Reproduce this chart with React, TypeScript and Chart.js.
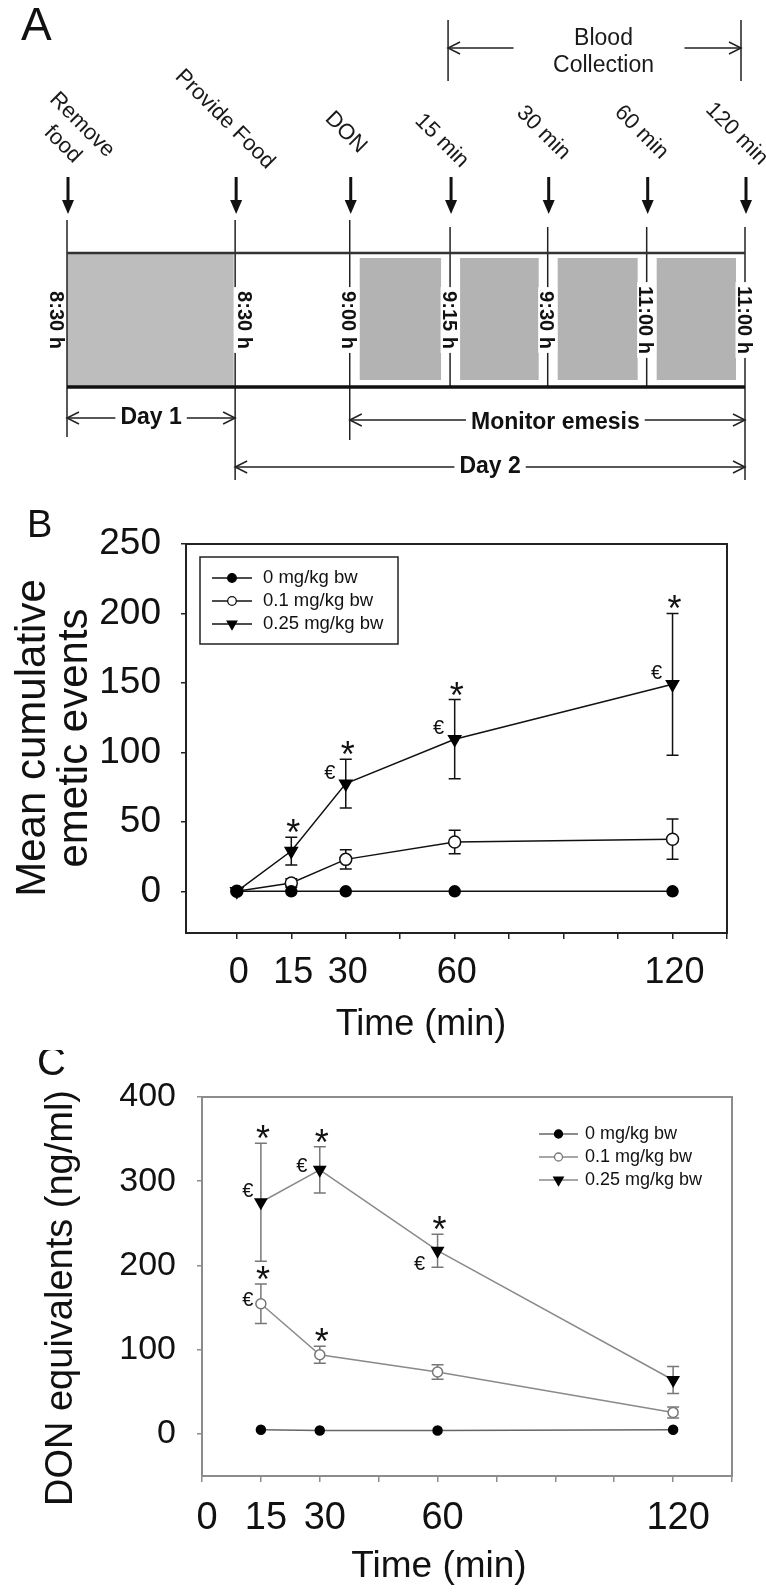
import React, { useEffect, useRef } from 'react';
import { Chart, registerables } from 'chart.js';

Chart.register(...registerables);

const FONT = "'Liberation Sans', Arial, Helvetica, sans-serif";
const W = 766;

// ================= Panel A : experimental timeline =================
const A_EVENT_LABELS = [['Remove', 'food'], ['Provide Food'], ['DON'], ['15 min'], ['30 min'], ['60 min'], ['120 min']];
const A_EVENT_POS = [0, 24.8, 41.7, 56.5, 70.9, 85.5, 100]; // schematic position along the timeline
const A_CLOCK_LABELS = ['8:30 h', '8:30 h', '9:00 h', '9:15 h', '9:30 h', '11:00 h', '11:00 h'];
const A_FOOD_REMOVED = [[0, 1]];
const A_MONITOR_BLOCKS = [[2, 3], [3, 4], [4, 5], [5, 6]];
const A_SPAN_LABELS = ['Day 1', 'Monitor emesis', 'Day 2'];
const A_SPAN_RANGES = [[0, 1], [2, 6], [1, 6]];
const A_BLOOD_LABEL = ['Blood', 'Collection'];
const A_BLOOD_RANGE = [3, 6];

// ================= Panel B : cumulative emetic events =================
const SERIES_NAMES = ['0 mg/kg bw', '0.1 mg/kg bw', '0.25 mg/kg bw'];
const B_TIME = [0, 15, 30, 60, 120];
const B_DOSE0 = [0, 0, 0, 0, 0];
const B_DOSE0_SEM = [0, 0, 0, 0, 0];
const B_DOSE01 = [0, 6, 23, 35.5, 37.5];
const B_DOSE01_SEM = [0, 3, 7, 8.5, 14.5];
const B_DOSE025 = [0, 29, 77.5, 109.5, 149];
const B_DOSE025_SEM = [0, 10, 17.5, 28.5, 51];
const B_X_TICKS = [0, 15, 30, 45, 60, 75, 90, 105, 120, 135];
const B_X_LABELS = [0, 15, 30, 60, 120];
const B_Y_TICKS = [0, 50, 100, 150, 200, 250];
const B_STAR_IDX = [1, 2, 3, 4];
const B_EURO_IDX = [2, 3, 4];

// ================= Panel C : plasma DON equivalents =================
const C_TIME = [15, 30, 60, 120];
const C_DOSE0 = [5, 4, 4, 5];
const C_DOSE0_SEM = [0, 0, 0, 0];
const C_DOSE01 = [154.5, 94, 73.5, 25.5];
const C_DOSE01_SEM = [23.5, 10, 8.5, 6.5];
const C_DOSE025 = [275, 313.5, 217.5, 64];
const C_DOSE025_SEM = [70, 27.5, 19.5, 16];
const C_X_TICKS = [0, 15, 30, 45, 60, 75, 90, 105, 120, 135];
const C_X_LABELS = [0, 15, 30, 60, 120];
const C_Y_TICKS = [0, 100, 200, 300, 400];
const C_STAR_IDX_025 = [0, 1, 2];
const C_STAR_IDX_01 = [0, 1];
const C_EURO_IDX_025 = [0, 1, 2];
const C_EURO_IDX_01 = [0];

// ================= helpers =================
function textAtCenter(ctx: CanvasRenderingContext2D, text: string, x: number, y: number, align: CanvasTextAlign = 'center') {
  ctx.textAlign = align;
  ctx.textBaseline = 'alphabetic';
  const m = ctx.measureText(text);
  const dy = (m.actualBoundingBoxAscent - m.actualBoundingBoxDescent) / 2;
  ctx.fillText(text, x, y + dy);
}

function openHead(ctx: CanvasRenderingContext2D, x: number, y: number, dir: number) {
  ctx.beginPath();
  ctx.moveTo(x - dir * 12, y - 6);
  ctx.lineTo(x, y);
  ctx.lineTo(x - dir * 12, y + 6);
  ctx.stroke();
}

function drawMarker(ctx: CanvasRenderingContext2D, style: string, x: number, y: number, r: number, fill: string, stroke: string, lw: number) {
  ctx.beginPath();
  if (style === 'triangle') {
    ctx.moveTo(x - r * 0.866, y - r * 0.5);
    ctx.lineTo(x + r * 0.866, y - r * 0.5);
    ctx.lineTo(x, y + r);
    ctx.closePath();
  } else {
    ctx.arc(x, y, r, 0, Math.PI * 2);
  }
  ctx.fillStyle = fill;
  ctx.fill();
  ctx.lineWidth = lw;
  ctx.strokeStyle = stroke;
  ctx.stroke();
}

// ================= Panel A plugin =================
const timelinePlugin = {
  id: 'timeline',
  afterDraw(chart: any) {
    const ctx = chart.ctx as CanvasRenderingContext2D;
    const sx = chart.scales.x;
    const xs = A_EVENT_POS.map((p) => sx.getPixelForValue(p));
    const yTop = 253;
    const yBot = 387;
    ctx.save();
    ctx.fillStyle = '#111';
    ctx.font = `46px ${FONT}`;
    ctx.textAlign = 'left';
    ctx.textBaseline = 'alphabetic';
    ctx.fillText('A', 21, 40);

    // shaded periods
    ctx.fillStyle = '#bdbdbd';
    A_FOOD_REMOVED.forEach(([a, b]) => ctx.fillRect(xs[a], yTop, xs[b] - xs[a] - 1.5, yBot - yTop));
    ctx.fillStyle = '#b3b3b3';
    A_MONITOR_BLOCKS.forEach(([a, b]) => ctx.fillRect(xs[a] + 10, yTop + 5, xs[b] - xs[a] - 19, yBot - yTop - 12));

    // vertical event lines
    const vTop = [220, 220, 220, 227, 227, 227, 227];
    const vBot = [437, 480, 440, yBot, yBot, yBot, 480];
    ctx.strokeStyle = '#222';
    ctx.lineWidth = 1.5;
    xs.forEach((x, i) => {
      ctx.beginPath();
      ctx.moveTo(x, vTop[i]);
      ctx.lineTo(x, vBot[i]);
      ctx.stroke();
    });

    // horizontal frame lines
    ctx.lineWidth = 2.5;
    ctx.strokeStyle = '#333';
    ctx.beginPath();
    ctx.moveTo(xs[0], yTop);
    ctx.lineTo(xs[6], yTop);
    ctx.stroke();
    ctx.lineWidth = 3.5;
    ctx.strokeStyle = '#111';
    ctx.beginPath();
    ctx.moveTo(xs[0], yBot);
    ctx.lineTo(xs[6], yBot);
    ctx.stroke();

    // clock labels
    ctx.font = `bold 20px ${FONT}`;
    A_CLOCK_LABELS.forEach((lab, i) => {
      const w = ctx.measureText(lab).width;
      const cx = i === 0 ? xs[0] - 9.5 : i === 1 ? xs[1] + 10 : xs[i];
      const cy = 320;
      if (i > 0) {
        ctx.fillStyle = '#fff';
        const rx = i === 1 ? xs[1] - 1.2 : cx - 9.5;
        const rw = i === 1 ? 21 : 19;
        ctx.fillRect(rx, cy - w / 2 - 4, rw, w + 8);
      }
      ctx.save();
      ctx.translate(cx, cy);
      ctx.rotate(Math.PI / 2);
      ctx.fillStyle = '#111';
      textAtCenter(ctx, lab, 0, 0);
      ctx.restore();
    });

    // down arrows
    ctx.fillStyle = '#111';
    ctx.strokeStyle = '#111';
    ctx.lineWidth = 3;
    xs.forEach((x0) => {
      const x = x0 + 1;
      ctx.beginPath();
      ctx.moveTo(x, 177);
      ctx.lineTo(x, 203);
      ctx.stroke();
      ctx.beginPath();
      ctx.moveTo(x - 6, 200);
      ctx.lineTo(x + 6, 200);
      ctx.lineTo(x, 214);
      ctx.closePath();
      ctx.fill();
    });

    // rotated event labels
    const labDx = [6.5, -9, -3, -7, -3, -4, -7];
    const labY = [133.5, 118, 131.5, 139.5, 131.5, 131, 132.5];
    ctx.font = `22px ${FONT}`;
    ctx.fillStyle = '#1a1a1a';
    A_EVENT_LABELS.forEach((lines, i) => {
      ctx.save();
      ctx.translate(xs[i] + labDx[i], labY[i]);
      ctx.rotate(Math.PI / 4);
      lines.forEach((ln, k) => textAtCenter(ctx, ln, 0, (k - (lines.length - 1) / 2) * 27));
      ctx.restore();
    });

    // blood collection bracket
    const bx1 = xs[A_BLOOD_RANGE[0]] - 2;
    const bx2 = xs[A_BLOOD_RANGE[1]] - 4;
    const bcx = (bx1 + bx2) / 2 + 9;
    ctx.strokeStyle = '#222';
    ctx.lineWidth = 1.5;
    ctx.beginPath();
    ctx.moveTo(bx1, 20);
    ctx.lineTo(bx1, 81);
    ctx.moveTo(bx2, 20);
    ctx.lineTo(bx2, 81);
    ctx.moveTo(bx1, 48);
    ctx.lineTo(bcx - 90, 48);
    ctx.moveTo(bcx + 81, 48);
    ctx.lineTo(bx2, 48);
    ctx.stroke();
    openHead(ctx, bx1, 48, -1);
    openHead(ctx, bx2, 48, 1);
    ctx.font = `23px ${FONT}`;
    ctx.fillStyle = '#1a1a1a';
    textAtCenter(ctx, A_BLOOD_LABEL[0], bcx, 36);
    textAtCenter(ctx, A_BLOOD_LABEL[1], bcx, 63);

    // day / monitoring spans
    const spanY = [418, 420, 467];
    const spanShift = [0, 8, 0];
    ctx.font = `bold 23px ${FONT}`;
    A_SPAN_LABELS.forEach((lab, i) => {
      const [a, b] = A_SPAN_RANGES[i];
      const x1 = xs[a];
      const x2 = xs[b];
      const cx = (x1 + x2) / 2 + spanShift[i];
      const y = spanY[i];
      const half = ctx.measureText(lab).width / 2 + 5;
      ctx.strokeStyle = '#222';
      ctx.lineWidth = 1.5;
      ctx.beginPath();
      ctx.moveTo(x1, y);
      ctx.lineTo(cx - half, y);
      ctx.moveTo(cx + half, y);
      ctx.lineTo(x2, y);
      ctx.stroke();
      openHead(ctx, x1, y, -1);
      openHead(ctx, x2, y, 1);
      ctx.fillStyle = '#111';
      textAtCenter(ctx, lab, cx, y);
    });
    ctx.restore();
  },
};

function timelineConfig(): any {
  return {
    type: 'scatter',
    data: {
      datasets: [
        {
          label: 'events',
          data: A_EVENT_POS.map((x) => ({ x, y: 0 })),
          pointRadius: 0,
        },
      ],
    },
    options: {
      responsive: false,
      animation: false,
      devicePixelRatio: 1,
      events: [],
      layout: { padding: { left: 67, right: 21, top: 0, bottom: 0 } },
      plugins: { legend: { display: false }, tooltip: { enabled: false } },
      scales: {
        x: { type: 'linear', min: 0, max: 100, display: false },
        y: { type: 'linear', min: -1, max: 1, display: false },
      },
    },
    plugins: [timelinePlugin],
  };
}

// ================= generic line-panel config =================
type Note = { text: string; t: number; v: number; dx: number; dy: number; size: number };

function lineConfig(p: any): any {
  const xLabelSet = new Set(p.xLabels);
  const decor = {
    id: 'decor' + p.letter,
    beforeDatasetsDraw(chart: any) {
      const ctx = chart.ctx as CanvasRenderingContext2D;
      const a = chart.chartArea;
      const x = chart.scales.x;
      const y = chart.scales.y;
      ctx.save();
      ctx.strokeStyle = p.axisColor;
      ctx.lineWidth = p.axisWidth;
      ctx.strokeRect(a.left, a.top, a.right - a.left, a.bottom - a.top);
      chart.data.datasets.forEach((ds: any) => {
        ctx.strokeStyle = ds.errorColor;
        ctx.lineWidth = 1.5;
        ds.data.forEach((pt: any, i: number) => {
          const e = ds.sem[i];
          if (!e) return;
          const px = x.getPixelForValue(pt.x);
          const y1 = y.getPixelForValue(pt.y + e);
          const y2 = y.getPixelForValue(pt.y - e);
          ctx.beginPath();
          ctx.moveTo(px, y1);
          ctx.lineTo(px, y2);
          ctx.moveTo(px - 6, y1);
          ctx.lineTo(px + 6, y1);
          ctx.moveTo(px - 6, y2);
          ctx.lineTo(px + 6, y2);
          ctx.stroke();
        });
      });
      ctx.restore();
    },
    afterDraw(chart: any) {
      const ctx = chart.ctx as CanvasRenderingContext2D;
      const x = chart.scales.x;
      const y = chart.scales.y;
      ctx.save();
      // significance marks
      ctx.fillStyle = '#111';
      (p.notes as Note[]).forEach((n) => {
        ctx.font = `${n.size}px ${FONT}`;
        textAtCenter(ctx, n.text, x.getPixelForValue(n.t) + n.dx, y.getPixelForValue(n.v) + n.dy);
      });
      // legend
      const L = p.legend;
      if (L.box) {
        ctx.strokeStyle = '#222';
        ctx.lineWidth = 1.5;
        ctx.strokeRect(L.box[0], L.box[1], L.box[2], L.box[3]);
      }
      chart.data.datasets.forEach((ds: any, i: number) => {
        const ry = L.rows[i];
        ctx.strokeStyle = ds.borderColor;
        ctx.lineWidth = 1.5;
        ctx.beginPath();
        ctx.moveTo(L.x1, ry);
        ctx.lineTo(L.x2, ry);
        ctx.stroke();
        const style = ds.pointStyle;
        drawMarker(ctx, style, (L.x1 + L.x2) / 2, ry, style === 'triangle' ? L.triR : L.circR, ds.pointBackgroundColor, ds.pointBorderColor, 1.3);
        ctx.fillStyle = '#111';
        ctx.font = `${L.size}px ${FONT}`;
        textAtCenter(ctx, ds.label, L.textX, ry, 'left');
      });
      // titles
      ctx.fillStyle = '#111';
      ctx.font = `${p.yTitle.size}px ${FONT}`;
      p.yTitle.lines.forEach((ln: string, k: number) => {
        ctx.save();
        ctx.translate(p.yTitle.xs[k], p.yTitle.y);
        ctx.rotate(-Math.PI / 2);
        textAtCenter(ctx, ln, 0, 0);
        ctx.restore();
      });
      ctx.font = `${p.xTitle.size}px ${FONT}`;
      textAtCenter(ctx, p.xTitle.text, p.xTitle.x, p.xTitle.y);
      ctx.font = `${p.letterSize}px ${FONT}`;
      ctx.textAlign = 'left';
      ctx.textBaseline = 'alphabetic';
      ctx.fillText(p.letter, p.letterPos[0], p.letterPos[1]);
      ctx.restore();
    },
  };

  return {
    type: 'line',
    data: { datasets: p.datasets },
    options: {
      responsive: false,
      animation: false,
      devicePixelRatio: 1,
      events: [],
      layout: { padding: { left: 0, top: p.area.top, right: W - p.area.right, bottom: 0 } },
      plugins: { legend: { display: false }, title: { display: false }, tooltip: { enabled: false } },
      scales: {
        x: {
          type: 'linear',
          min: p.xMin,
          max: p.xMax,
          afterBuildTicks: (s: any) => {
            s.ticks = p.xTicks.map((v: number) => ({ value: v }));
          },
          afterFit: (s: any) => {
            s.height = p.canvasH - p.area.bottom;
          },
          grid: { display: true, drawOnChartArea: false, drawTicks: true, tickLength: 6, color: p.axisColor, lineWidth: 1.5 },
          border: { display: true, color: p.axisColor, width: p.axisWidth },
          ticks: {
            autoSkip: false,
            maxRotation: 0,
            minRotation: 0,
            padding: p.xTickPad,
            labelOffset: p.xLabelOffset,
            color: '#111',
            font: { family: FONT, size: p.xTickSize },
            callback: (v: any) => (xLabelSet.has(v) ? String(v) : ''),
          },
        },
        y: {
          type: 'linear',
          min: p.yMin,
          max: p.yMax,
          afterBuildTicks: (s: any) => {
            s.ticks = p.yTicks.map((v: number) => ({ value: v }));
          },
          afterFit: (s: any) => {
            s.width = p.area.left;
          },
          grid: { display: true, drawOnChartArea: false, drawTicks: true, tickLength: 5, color: p.axisColor, lineWidth: 1.5 },
          border: { display: true, color: p.axisColor, width: p.axisWidth },
          ticks: {
            autoSkip: false,
            padding: p.yTickPad,
            color: '#111',
            font: { family: FONT, size: p.yTickSize },
            callback: (v: any) => String(v),
          },
        },
      },
    },
    plugins: [decor],
  };
}

function series(label: string, time: number[], vals: number[], sem: number[], st: any) {
  return {
    label,
    data: time.map((t, i) => ({ x: t, y: vals[i] })),
    sem,
    errorColor: st.errorColor,
    borderColor: st.line,
    borderWidth: 1.5,
    tension: 0,
    fill: false,
    pointStyle: st.style,
    pointRotation: st.style === 'triangle' ? 180 : 0,
    pointRadius: st.r,
    pointBackgroundColor: st.fill,
    pointBorderColor: st.stroke,
    pointBorderWidth: 1.5,
  };
}

function panelBConfig(): any {
  const notes: Note[] = [
    ...B_STAR_IDX.map((i) => ({ text: '*', t: B_TIME[i], v: B_DOSE025[i] + B_DOSE025_SEM[i], dx: 2, dy: -11, size: 36 })),
    ...B_EURO_IDX.map((i) => ({ text: '€', t: B_TIME[i], v: B_DOSE025[i], dx: -16, dy: -12, size: 20 })),
  ];
  return lineConfig({
    letter: 'B',
    letterPos: [27, 57],
    letterSize: 38,
    canvasH: 570,
    area: { left: 186, right: 727, top: 64, bottom: 453 },
    xMin: -14,
    xMax: 135,
    xTicks: B_X_TICKS,
    xLabels: B_X_LABELS,
    yMin: -30,
    yMax: 250,
    yTicks: B_Y_TICKS,
    xTickSize: 36,
    yTickSize: 37,
    xTickPad: 12,
    yTickPad: 20,
    xLabelOffset: 2,
    axisColor: '#222',
    axisWidth: 2,
    datasets: [
      series(SERIES_NAMES[0], B_TIME, B_DOSE0, B_DOSE0_SEM, { line: '#111', errorColor: '#111', style: 'circle', r: 5.5, fill: '#000', stroke: '#000' }),
      series(SERIES_NAMES[1], B_TIME, B_DOSE01, B_DOSE01_SEM, { line: '#111', errorColor: '#111', style: 'circle', r: 6, fill: '#fff', stroke: '#111' }),
      series(SERIES_NAMES[2], B_TIME, B_DOSE025, B_DOSE025_SEM, { line: '#111', errorColor: '#111', style: 'triangle', r: 7, fill: '#000', stroke: '#000' }),
    ],
    notes,
    legend: { box: [200, 77, 198, 87], rows: [98, 121, 144], x1: 212, x2: 252, textX: 263, size: 18.5, circR: 4.3, triR: 5.5 },
    yTitle: { lines: ['Mean cumulative', 'emetic events'], xs: [29, 71], y: 258, size: 42 },
    xTitle: { text: 'Time (min)', x: 421, y: 545, size: 36 },
  });
}

function panelCConfig(): any {
  const euroShift025 = [[-13, -12], [-18, -5], [-18, 12]];
  const euroShift01 = [[-13, -5]];
  const notes: Note[] = [
    ...C_STAR_IDX_025.map((i) => ({ text: '*', t: C_TIME[i], v: C_DOSE025[i] + C_DOSE025_SEM[i], dx: 2, dy: -11, size: 36 })),
    ...C_STAR_IDX_01.map((i) => ({ text: '*', t: C_TIME[i], v: C_DOSE01[i] + C_DOSE01_SEM[i], dx: 2, dy: -11, size: 36 })),
    ...C_EURO_IDX_025.map((i, k) => ({ text: '€', t: C_TIME[i], v: C_DOSE025[i], dx: euroShift025[k][0], dy: euroShift025[k][1], size: 20 })),
    ...C_EURO_IDX_01.map((i, k) => ({ text: '€', t: C_TIME[i], v: C_DOSE01[i], dx: euroShift01[k][0], dy: euroShift01[k][1], size: 20 })),
  ];
  return lineConfig({
    letter: 'C',
    letterPos: [37, 25],
    letterSize: 40,
    canvasH: 543,
    area: { left: 202, right: 732, top: 47, bottom: 426 },
    xMin: 0,
    xMax: 135,
    xTicks: C_X_TICKS,
    xLabels: C_X_LABELS,
    yMin: -50,
    yMax: 400,
    yTicks: C_Y_TICKS,
    xTickSize: 38,
    yTickSize: 34,
    xTickPad: 14,
    yTickPad: 21,
    xLabelOffset: 5,
    axisColor: '#8c8c8c',
    axisWidth: 2,
    datasets: [
      series(SERIES_NAMES[0], C_TIME, C_DOSE0, C_DOSE0_SEM, { line: '#666', errorColor: '#777', style: 'circle', r: 4.5, fill: '#000', stroke: '#000' }),
      series(SERIES_NAMES[1], C_TIME, C_DOSE01, C_DOSE01_SEM, { line: '#8a8a8a', errorColor: '#777', style: 'circle', r: 5, fill: '#fff', stroke: '#777' }),
      series(SERIES_NAMES[2], C_TIME, C_DOSE025, C_DOSE025_SEM, { line: '#8a8a8a', errorColor: '#777', style: 'triangle', r: 6.5, fill: '#000', stroke: '#000' }),
    ],
    notes,
    legend: { box: null, rows: [84, 107, 130], x1: 539, x2: 578, textX: 585, size: 18, circR: 4, triR: 5.5 },
    yTitle: { lines: ['DON equivalents (ng/ml)'], xs: [62], y: 248, size: 38 },
    xTitle: { text: 'Time (min)', x: 439, y: 517, size: 37 },
  });
}

function ChartCanvas({ top, height, make }: { top: number; height: number; make: () => any }) {
  const ref = useRef<HTMLCanvasElement>(null);
  useEffect(() => {
    const chart = new Chart(ref.current as HTMLCanvasElement, make());
    return () => chart.destroy();
  }, []);
  return (
    <canvas
      ref={ref}
      width={W}
      height={height}
      style={{ position: 'absolute', left: 0, top, width: W, height, display: 'block' }}
    />
  );
}

export default function App() {
  return (
    <div style={{ position: 'absolute', left: 0, top: 0, width: W, height: 1593, background: '#fff', overflow: 'hidden' }}>
      <ChartCanvas top={0} height={480} make={timelineConfig} />
      <ChartCanvas top={480} height={570} make={panelBConfig} />
      <ChartCanvas top={1050} height={543} make={panelCConfig} />
    </div>
  );
}
